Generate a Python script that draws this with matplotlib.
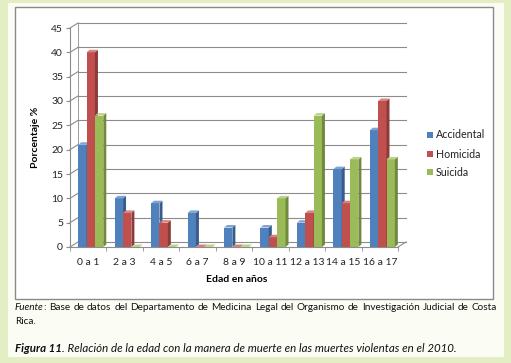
import numpy as np
import matplotlib.pyplot as plt
from matplotlib.patches import Rectangle, Polygon

categories = ['0 a 1', '2 a 3', '4 a 5', '6 a 7', '8 a 9',
              '10 a 11', '12 a 13', '14 a 15', '16 a 17']
accidental = [21, 10, 9, 7, 4, 4, 5, 16, 24]
homicida = [40, 7, 5, 0, 0, 2, 7, 9, 30]
suicida = [27, 0, 0, 0, 0, 10, 27, 18, 18]
series_names = ['Accidental', 'Homicida', 'Suicida']
yticks = list(range(0, 50, 5))

plt.rcParams['font.family'] = ['Lato', 'DejaVu Sans']

W, H = 511, 363
fig = plt.figure(figsize=(W / 100, H / 100), dpi=100)
fig.patch.set_facecolor('#e3eec4')


def rect(x0, y0, x1, y1):
    # pixel box (top-left origin) -> figure fraction
    return [x0 / W, 1 - y1 / H, (x1 - x0) / W, (y1 - y0) / H]


# white page and chart frame
r = rect(8, 3, 504, 357)
fig.add_artist(Rectangle((r[0], r[1]), r[2], r[3], transform=fig.transFigure,
                         facecolor='#fbfdf5', edgecolor='none', zorder=0))
r = rect(15, 7, 493, 299)
fig.add_artist(Rectangle((r[0], r[1]), r[2], r[3], transform=fig.transFigure,
                         facecolor='white', edgecolor='#8a8a8a', lw=1, zorder=0))

ax = fig.add_axes(rect(70, 28, 398, 247))
ax.set_xlim(-0.5, 8.5)
ax.set_ylim(0, 45)
ax.patch.set_alpha(0)
for s in ['top', 'right']:
    ax.spines[s].set_visible(False)
for s in ['left', 'bottom']:
    ax.spines[s].set_color('#8c8c8c')
    ax.spines[s].set_linewidth(0.8)

bb = ax.get_window_extent()
sx = bb.width / 9.0
sy = bb.height / 45.0
# depth of back wall and of bars, in data units
wdx, wdy = 8 / sx, 5 / sy
bdx, bdy = 3 / sx, 2.5 / sy

gc = '#8c8c8c'
for v in yticks:
    ax.plot([-0.5 + wdx, 8.5 + wdx], [v + wdy, v + wdy], color=gc, lw=0.8,
            clip_on=False, zorder=1)
    ax.plot([-0.5, -0.5 + wdx], [v, v + wdy], color=gc, lw=0.8,
            clip_on=False, zorder=1)
ax.plot([8.5, 8.5 + wdx], [0, wdy], color=gc, lw=0.8, clip_on=False, zorder=1)
ax.plot([-0.5 + wdx, -0.5 + wdx], [wdy, 45 + wdy], color=gc, lw=0.6,
        clip_on=False, zorder=1)

faces = [('#4f81bd', '#385d8a', '#7fa3d3'),
         ('#c0504d', '#8e3a38', '#d9817e'),
         ('#9bbb59', '#728a40', '#bcd38b')]

x = np.arange(len(categories))
bw = 0.229
shift = 0.07
z = 2
for i, (name, vals) in enumerate(zip(series_names, [accidental, homicida, suicida])):
    front, side, top = faces[i]
    xs = x + (i - 1) * bw + shift
    ax.bar(xs, vals, width=bw, color=front, zorder=z + 0.1 * i, label=name,
           clip_on=False)
    for xc, v in zip(xs, vals):
        x0, x1 = xc - bw / 2, xc + bw / 2
        ax.add_patch(Polygon([(x1, 0), (x1, v), (x1 + bdx, v + bdy), (x1 + bdx, bdy)],
                             closed=True, facecolor=side, edgecolor='none',
                             zorder=z + 0.1 * i, clip_on=False))
        ax.add_patch(Polygon([(x0, v), (x1, v), (x1 + bdx, v + bdy), (x0 + bdx, v + bdy)],
                             closed=True, facecolor=top, edgecolor='none',
                             zorder=z + 0.1 * i, clip_on=False))

ax.set_yticks(yticks)
ax.set_yticklabels([str(v) for v in yticks], fontsize=7.5, color='#222222')
ax.tick_params(axis='y', length=3, color=gc, pad=2)
ax.set_xticks(x)
ax.set_xticklabels(categories, fontsize=7.5, color='#222222')
ax.tick_params(axis='x', which='major', length=0, pad=8)
ax.set_xticks(np.arange(-0.5, 9, 1), minor=True)
ax.tick_params(axis='x', which='minor', length=3, color=gc)

ax.set_ylabel('Porcentaje %', fontsize=7.5, fontweight='bold', labelpad=8)
fig.text(237 / W, 1 - 279 / H, 'Edad en años', fontsize=7.5, fontweight='bold',
         ha='center', va='center')

# legend
ly = [135, 154, 172]
for name, (front, _, _), y in zip(series_names, faces, ly):
    r = rect(427, y - 3, 433, y + 3)
    fig.add_artist(Rectangle((r[0], r[1]), r[2], r[3], transform=fig.transFigure,
                             facecolor=front, edgecolor='none'))
    fig.text(436 / W, 1 - y / H, name, fontsize=7.7, va='center', ha='left',
             color='#222222')

# captions
renderer = fig.canvas.get_renderer()


def put(txt, xp, y, size, style='normal', weight='normal'):
    t = fig.text(xp / W, 1 - y / H, txt, fontsize=size, style=style,
                 fontweight=weight, va='center', ha='left', color='#111111')
    return t.get_window_extent(renderer).width


def run(pieces, x0, y, size):
    xp = x0
    for txt, style, weight in pieces:
        xp += put(txt, xp, y, size, style, weight)


# justified source line
fs = 7.2
words = ('Base de datos del Departamento de Medicina Legal del Organismo de '
         'Investigación Judicial de Costa').split()
probe = [fig.text(0, 0, w, fontsize=fs) for w in words]
widths = [p.get_window_extent(renderer).width for p in probe]
for p in probe:
    p.remove()
xp = 15
xp += put('Fuente', xp, 308, fs, 'italic')
xp += put(':', xp, 308, fs)
gap = (497 - xp - sum(widths)) / len(words)
for w, wd in zip(words, widths):
    xp += gap
    put(w, xp, 308, fs)
    xp += wd
run([('Rica.', 'normal', 'normal')], 15, 322, fs)
run([('Figura 11', 'italic', 'bold'),
     ('. Relación de la edad con la manera de muerte en las muertes '
      'violentas en el 2010.', 'italic', 'normal')], 15, 348, 8.3)

fig.savefig('out.png', dpi=100, facecolor=fig.get_facecolor())
